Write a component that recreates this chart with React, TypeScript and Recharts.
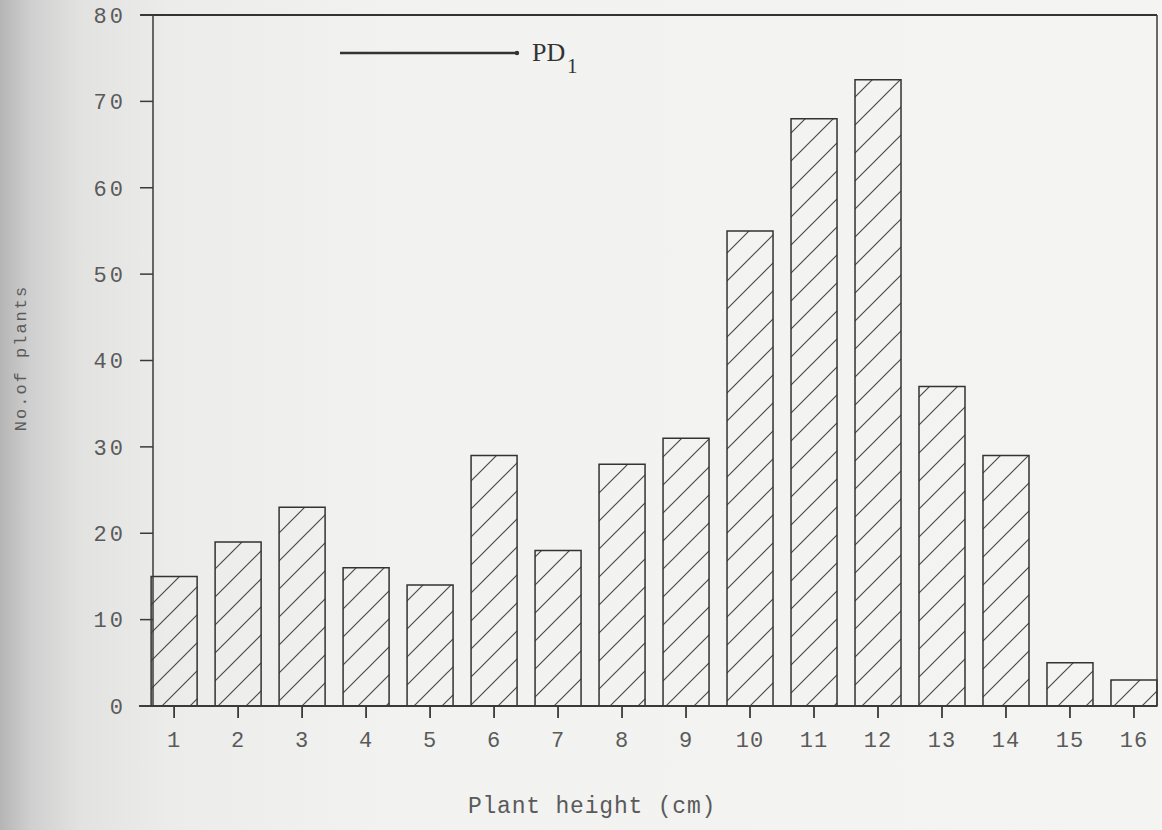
import React from 'react';
import { BarChart, Bar, XAxis, YAxis, ReferenceLine } from 'recharts';

const heights = [1, 2, 3, 4, 5, 6, 7, 8, 9, 10, 11, 12, 13, 14, 15, 16];
const plantCounts = [15, 19, 23, 16, 14, 29, 18, 28, 31, 55, 68, 72.5, 37, 29, 5, 3];
const yTicks = [0, 10, 20, 30, 40, 50, 60, 70, 80];
const seriesName = 'PD';
const seriesSub = '1';
const xTitle = 'Plant height (cm)';
const yTitle = 'No.of plants';

const data = heights.map((h, i) => ({ height: h, count: plantCounts[i] }));

const ink = '#3a3a3a';
const textInk = '#5a5a5a';
const mono = '"Liberation Mono", "DejaVu Sans Mono", monospace';

export default function App() {
  return (
    <div
      style={{
        position: 'absolute',
        left: 0,
        top: 0,
        width: 1162,
        height: 830,
        overflow: 'hidden',
        background:
          'linear-gradient(to right, #b5b5b5 0px, #cfcfcf 30px, #e2e2e1 80px, #ececeb 170px, #f2f2f0 400px, #f4f4f2 1162px)',
      }}
    >
      <svg width={0} height={0} style={{ position: 'absolute' }}>
        <defs>
          <pattern id="hatch" patternUnits="userSpaceOnUse" width={28} height={28}>
            <path
              d="M-7,7 L7,-7 M0,28 L28,0 M21,35 L35,21"
              stroke="#4a4a4a"
              strokeWidth={1.2}
              fill="none"
            />
          </pattern>
        </defs>
      </svg>
      <BarChart
        width={1162}
        height={830}
        data={data}
        margin={{ top: 15, right: 5, left: 0, bottom: 64 }}
      >
        <XAxis
          dataKey="height"
          type="number"
          domain={[0.67, 16.36]}
          ticks={heights}
          interval={0}
          height={60}
          tickSize={12}
          tickMargin={13}
          stroke={ink}
          strokeWidth={1.8}
          tick={{ fill: textInk, fontSize: 22, fontFamily: mono, letterSpacing: 1 }}
        />
        <YAxis
          type="number"
          domain={[0, 80]}
          ticks={yTicks}
          interval={0}
          width={153}
          tickSize={13}
          tickMargin={14}
          stroke={ink}
          strokeWidth={1.5}
          tick={{ fill: textInk, fontSize: 22, fontFamily: mono, letterSpacing: 3 }}
        />
        <ReferenceLine
          segment={[{ x: 0.47, y: 80 }, { x: 16.36, y: 80 }]}
          stroke="#333"
          strokeWidth={2.2}
          ifOverflow="visible"
        />
        <ReferenceLine
          segment={[{ x: 0.45, y: 0 }, { x: 0.67, y: 0 }]}
          stroke={ink}
          strokeWidth={1.8}
          ifOverflow="visible"
        />
        <ReferenceLine x={16.36} stroke={ink} strokeWidth={1.5} ifOverflow="visible" />
        <Bar
          dataKey="count"
          barSize={46}
          fill="url(#hatch)"
          stroke="#333"
          strokeWidth={1.5}
          isAnimationActive={false}
        />
      </BarChart>
      <svg
        width={1162}
        height={830}
        style={{ position: 'absolute', left: 0, top: 0, pointerEvents: 'none' }}
      >
        <line x1={340} y1={53} x2={517} y2={53} stroke="#333" strokeWidth={2.5} />
        <circle cx={517} cy={53} r={2.2} fill="#333" />
        <text x={532} y={61} fontFamily='"Liberation Serif", serif' fontSize={26} fill="#333">
          {seriesName}
        </text>
        <text x={567} y={73} fontFamily='"Liberation Serif", serif' fontSize={21} fill="#333">
          {seriesSub}
        </text>
        <text
          x={592}
          y={813}
          textAnchor="middle"
          fontFamily={mono}
          fontSize={23}
          letterSpacing={0.8}
          fill={textInk}
        >
          {xTitle}
        </text>
        <text
          x={0}
          y={0}
          transform="translate(26, 358) rotate(-90)"
          textAnchor="middle"
          fontFamily={mono}
          fontSize={17}
          letterSpacing={2}
          fill={textInk}
        >
          {yTitle}
        </text>
      </svg>
    </div>
  );
}
